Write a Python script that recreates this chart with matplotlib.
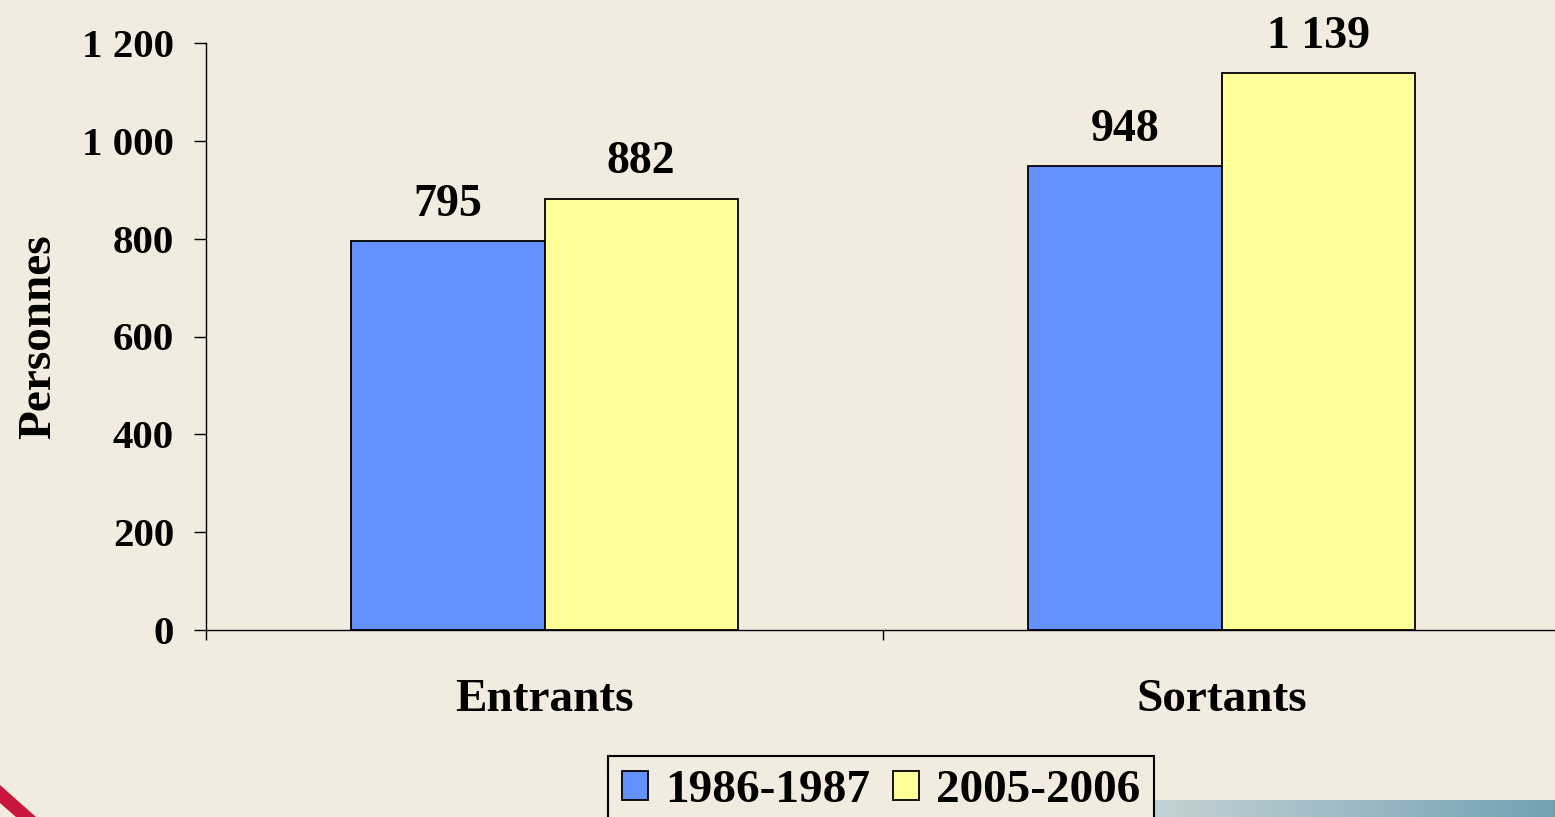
import numpy as np
import matplotlib.pyplot as plt
from matplotlib.patches import Polygon
from matplotlib.colors import LinearSegmentedColormap

# data
categories = ['Entrants', 'Sortants']
periods = ['1986-1987', '2005-2006']
values_8687 = [795, 948]
values_0506 = [882, 1139]
yticks = [0, 200, 400, 600, 800, 1000, 1200]
colors = ['#6591FF', '#FFFF99']
bg = '#F1EBE0'


def fmt(v):
    # french style thousands separator
    return f'{v:,}'.replace(',', ' ')


plt.rcParams['font.family'] = ['Liberation Serif', 'DejaVu Serif']
plt.rcParams['font.weight'] = 'bold'

fig = plt.figure(figsize=(15.55, 8.17), dpi=100, facecolor=bg)

# decoration of the slide background: blue band bottom right, red swoosh bottom left
deco = fig.add_axes([1150 / 1555, 0, 405 / 1555, 17 / 817])
grad = np.linspace(0, 1, 256).reshape(1, -1)
cmap = LinearSegmentedColormap.from_list('band', ['#C4D2D4', '#9DBAC4', '#6FA2B4'])
deco.imshow(grad, aspect='auto', cmap=cmap)
deco.axis('off')
fig.patches.append(Polygon([[0, 32 / 817], [36 / 1555, 0], [16 / 1555, 0], [0, 14 / 817]],
                           closed=True, transform=fig.transFigure,
                           facecolor='#C8163C', edgecolor='none'))

ax = fig.add_axes([206 / 1555, 187 / 817, 1354 / 1555, 587 / 817])
ax.set_facecolor('none')

x = np.arange(len(categories))
w = 0.286
b1 = ax.bar(x - w / 2, values_8687, w, color=colors[0], edgecolor='black',
            linewidth=1.3, label=periods[0])
b2 = ax.bar(x + w / 2, values_0506, w, color=colors[1], edgecolor='black',
            linewidth=1.3, label=periods[1])
for bars, vals in [(b1, values_8687), (b2, values_0506)]:
    ax.bar_label(bars, labels=[fmt(v) for v in vals], padding=11,
                 fontsize=33, fontweight='bold')

ax.set_xlim(-0.5, 1.5)
ax.set_ylim(0, 1200)
ax.set_yticks(yticks)
ax.set_yticklabels([fmt(v) for v in yticks], fontsize=29.5)
ax.set_xticks(x)
ax.set_xticklabels(categories, fontsize=34)
ax.set_xticks([-0.5, 0.5, 1.5], minor=True)
ax.tick_params(axis='x', which='major', length=0, pad=35)
ax.tick_params(axis='x', which='minor', length=7, width=1, direction='out')
ax.tick_params(axis='y', length=9, width=1, pad=14)
for s in ['top', 'right']:
    ax.spines[s].set_visible(False)
for s in ['left', 'bottom']:
    ax.spines[s].set_linewidth(1)

ax.set_ylabel('Personnes', fontsize=34, fontweight='bold')
ax.yaxis.set_label_coords(-0.108, 0.5)

leg = fig.legend(loc='upper center', bbox_to_anchor=(881 / 1555, 1 - 756 / 817),
                 ncol=2, fontsize=34, frameon=True, fancybox=False,
                 handlelength=0.55, handleheight=0.55, handletextpad=0.36,
                 columnspacing=0.49, borderpad=0.3, borderaxespad=0)
leg.get_frame().set_edgecolor('black')
leg.get_frame().set_linewidth(1.5)
leg.get_frame().set_facecolor(bg)
leg.get_frame().set_alpha(1)

fig.savefig('out.png', dpi=100, facecolor=bg)
